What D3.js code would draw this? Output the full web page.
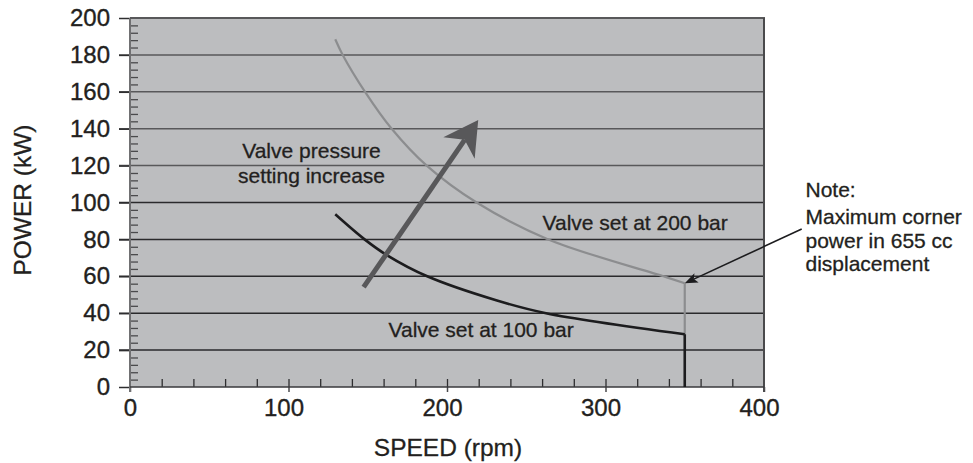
<!DOCTYPE html>
<html>
<head>
<meta charset="utf-8">
<script src="https://cdn.jsdelivr.net/npm/d3@7"></script>
<style>
  body { margin: 0; background: #fff; }
  svg { display: block; font-family: "Liberation Sans", Arial, sans-serif; }
  .axis text { fill: #231f20; font-size: 24px; stroke: #231f20; stroke-width: 0.35; }
  .axis .domain { display: none; }
  .note { fill: #231f20; font-size: 21px; stroke: #231f20; stroke-width: 0.3; }
  .title { fill: #231f20; font-size: 24.5px; stroke: #231f20; stroke-width: 0.3; }
</style>
</head>
<body>
<svg id="chart" width="973" height="463"></svg>
<script>
// values
const speed200 = [129.5, 134.2, 148.3, 165.1, 187.2, 218.7, 263.9, 336.5, 350]
const power200 = [188.5, 180, 160, 140, 120, 100, 80, 60, 56.2]
const speed100 = [129.5, 148, 162, 187.5, 231, 262.5, 350]
const power100 = [93.6, 80, 71.5, 60, 47, 40, 28.6]
const cornerSpeed = 350
const xTicks = [0, 100, 200, 300, 400]
const yTicks = [0, 20, 40, 60, 80, 100, 120, 140, 160, 180, 200]
const arrowFrom = [147.4, 54.1]
const arrowTo = [219.7, 144.7]
const noteFrom = [423.8, 85.6]

const svg = d3.select('#chart')
const x = d3.scaleLinear().domain([0, 400]).range([130, 764])
const y = d3.scaleLinear().domain([0, 200]).range([387, 18])
const x0 = x(0), x1 = x(400), y0 = y(0), y1 = y(200)

// plot background
svg.append('rect')
  .attr('x', x0).attr('y', y1)
  .attr('width', x1 - x0).attr('height', y0 - y1)
  .attr('fill', '#bcbdbf')

// horizontal grid
svg.append('g')
  .selectAll('line')
  .data(yTicks.slice(1, -1))
  .join('line')
  .attr('x1', x0 - 11).attr('x2', x1)
  .attr('y1', d => y(d)).attr('y2', d => y(d))
  .attr('stroke', d => d > 100 ? '#58585a' : '#2a2a2c')
  .attr('stroke-width', 1.5)

// minor ticks on y (inside)
const yMinor = d3.range(4, 200, 4).filter(d => d % 20 !== 0)
svg.append('g')
  .attr('class', 'axis')
  .attr('transform', `translate(${x0},0)`)
  .call(d3.axisRight(y).tickValues(yMinor).tickSize(8).tickFormat(''))
  .selectAll('line').attr('stroke', '#4a4a4c').attr('stroke-width', 1.3)

// minor ticks on x (inside)
const xMinor = d3.range(20, 400, 20)
svg.append('g')
  .attr('class', 'axis')
  .attr('transform', `translate(0,${y0})`)
  .call(d3.axisTop(x).tickValues(xMinor).tickSize(8).tickFormat(''))
  .selectAll('line').attr('stroke', '#2e2e30').attr('stroke-width', 1.3)

// y axis labels + major ticks
const yAxis = svg.append('g')
  .attr('class', 'axis')
  .attr('transform', `translate(${x0},0)`)
  .call(d3.axisLeft(y).tickValues(yTicks).tickSize(11).tickPadding(9))
yAxis.selectAll('line').attr('stroke', '#2e2e30').attr('stroke-width', 1.5)

// x axis labels + major ticks
const xAxis = svg.append('g')
  .attr('class', 'axis')
  .attr('transform', `translate(0,${y0})`)
  .call(d3.axisBottom(x).tickValues(xTicks).tickSize(5).tickPadding(7))
xAxis.selectAll('line').attr('stroke', '#4a4a4c').attr('stroke-width', 1.5)
xAxis.selectAll('text').attr('dx', d => d === 0 ? 0 : -5)

// frame
svg.append('line').attr('x1', x0).attr('x2', x0).attr('y1', y1).attr('y2', y0 + 5)
  .attr('stroke', '#707072').attr('stroke-width', 2)
svg.append('line').attr('x1', x0).attr('x2', x1 + 1).attr('y1', y1).attr('y2', y1)
  .attr('stroke', '#58585a').attr('stroke-width', 2)
svg.append('line').attr('x1', x1).attr('x2', x1).attr('y1', y1).attr('y2', y0 + 5)
  .attr('stroke', '#4a4a4c').attr('stroke-width', 2)
svg.append('line').attr('x1', x0).attr('x2', x1).attr('y1', y0).attr('y2', y0)
  .attr('stroke', '#3a3a3c').attr('stroke-width', 1.6)

// curves
const line = d3.line().x(d => x(d[0])).y(d => y(d[1])).curve(d3.curveCatmullRom.alpha(0.5))
const pts200 = speed200.map((s, i) => [s, power200[i]])
const pts100 = speed100.map((s, i) => [s, power100[i]])

svg.append('path').datum(pts200)
  .attr('d', line).attr('fill', 'none')
  .attr('stroke', '#8c8d8f').attr('stroke-width', 2.2)
svg.append('line')
  .attr('x1', x(cornerSpeed)).attr('x2', x(cornerSpeed))
  .attr('y1', y(power200[power200.length - 1])).attr('y2', y(power100[power100.length - 1]))
  .attr('stroke', '#8c8d8f').attr('stroke-width', 2.2)

svg.append('path').datum(pts100)
  .attr('d', line).attr('fill', 'none')
  .attr('stroke', '#1c1c1e').attr('stroke-width', 2.6)
svg.append('line')
  .attr('x1', x(cornerSpeed)).attr('x2', x(cornerSpeed))
  .attr('y1', y(power100[power100.length - 1])).attr('y2', y(0))
  .attr('stroke', '#1c1c1e').attr('stroke-width', 2.6)

// arrows
function arrow (g, from, to, opts) {
  const fx = x(from[0]), fy = y(from[1]), tx = x(to[0]), ty = y(to[1])
  const len = Math.hypot(tx - fx, ty - fy)
  const ux = (tx - fx) / len, uy = (ty - fy) / len
  const nx = -uy, ny = ux
  const bx = tx - opts.head * ux, by = ty - opts.head * uy
  const mx = tx - opts.notch * ux, my = ty - opts.notch * uy
  g.append('line')
    .attr('x1', fx).attr('y1', fy).attr('x2', mx).attr('y2', my)
    .attr('stroke', opts.color).attr('stroke-width', opts.width)
  g.append('path')
    .attr('d', `M${tx},${ty}L${bx + opts.half * nx},${by + opts.half * ny}` +
      `L${mx},${my}L${bx - opts.half * nx},${by - opts.half * ny}Z`)
    .attr('fill', opts.color)
}
arrow(svg.append('g'), arrowFrom, arrowTo, { color: '#58585a', width: 5, head: 34, notch: 24, half: 19 })
arrow(svg.append('g'), noteFrom, [cornerSpeed, power200[power200.length - 1]],
  { color: '#1c1c1e', width: 1.6, head: 13, notch: 10, half: 5 })

// annotations
const label = (tx, ty, str, anchor = 'start') => svg.append('text')
  .attr('class', 'note').attr('x', tx).attr('y', ty)
  .attr('text-anchor', anchor).text(str)

label(311.5, 158, 'Valve pressure', 'middle')
label(311.5, 182.5, 'setting increase', 'middle')
label(542.5, 230, 'Valve set at 200 bar')
label(388.5, 337, 'Valve set at 100 bar')
label(805.5, 196.5, 'Note:')
label(805.5, 224, 'Maximum corner')
label(805.5, 248, 'power in 655 cc')
label(805.5, 270.5, 'displacement')

// axis titles
svg.append('text').attr('class', 'title')
  .attr('x', 448).attr('y', 456).attr('text-anchor', 'middle')
  .text('SPEED (rpm)')
svg.append('text').attr('class', 'title')
  .attr('transform', 'translate(31,200) rotate(-90)')
  .attr('text-anchor', 'middle')
  .text('POWER (kW)')
</script>
</body>
</html>
